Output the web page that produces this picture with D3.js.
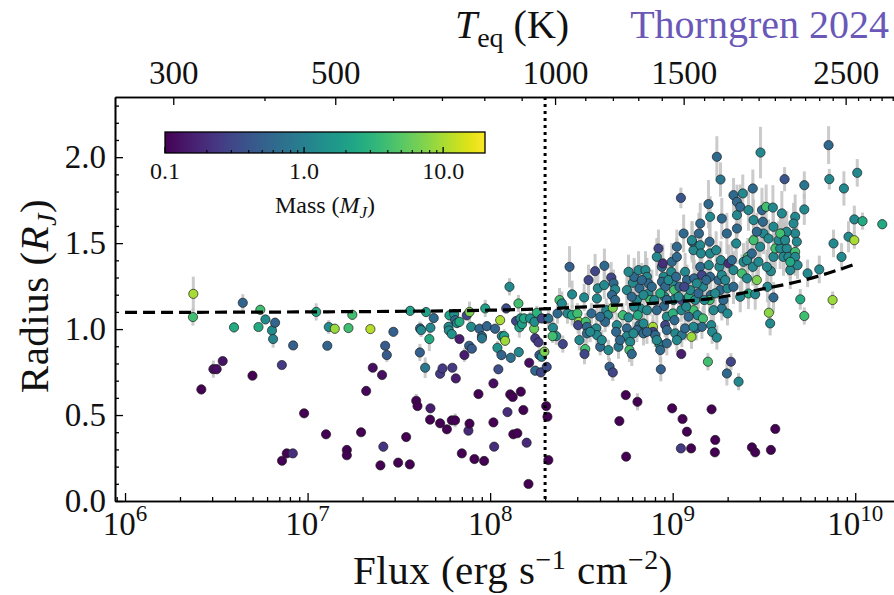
<!DOCTYPE html>
<html>
<head>
<meta charset="utf-8">
<script src="https://cdn.jsdelivr.net/npm/d3@7"></script>
<style>
  body { margin: 0; background: #fff; }
  svg text { font-family: "Liberation Serif", "DejaVu Serif", serif; fill: #111; }
</style>
</head>
<body>
<div id="chart"></div>
<script>
// --- data (log10 flux, radius in R_J, mass in M_J, radius error) ---
const logFlux = [
  6.374, 6.372, 6.418, 6.484, 6.502, 6.535, 6.597, 6.645, 6.698, 6.731,
  6.741, 6.769, 6.805, 6.822, 6.811, 6.859, 6.86, 6.886, 6.919, 6.921,
  6.981, 7.047, 7.101, 7.108, 7.116, 7.149, 7.215, 7.215, 7.224, 7.245,
  7.293, 7.321, 7.344, 7.357, 7.399, 7.408, 7.415, 7.425, 7.434, 7.47,
  7.496, 7.54, 7.562, 7.56, 7.595, 7.602, 7.616, 7.622, 7.615, 7.644,
  7.649, 7.667, 7.673, 7.673, 7.671, 7.691, 7.726, 7.726, 7.739, 7.763,
  7.772, 7.774, 7.777, 7.79, 7.793, 7.79, 7.808, 7.803, 7.808, 7.818,
  7.832, 7.812, 7.832, 7.845, 7.859, 7.872, 7.881, 7.887, 7.887, 7.896,
  7.885, 7.9, 7.914, 7.936, 7.941, 7.955, 7.955, 7.967, 7.973, 7.982,
  8.018, 8.018, 8.022, 8.027, 8.04, 8.045, 8.055, 8.062, 8.064, 8.077,
  8.082, 8.088, 8.095, 8.106, 8.113, 8.11, 8.124, 8.127, 8.142, 8.149,
  8.155, 8.157, 8.16, 8.166, 8.168, 8.175, 8.182, 8.186, 8.2, 8.21,
  8.214, 8.219, 8.241, 8.243, 8.247, 8.247, 8.256, 8.265, 8.27, 8.278,
  8.283, 8.283, 8.297, 8.307, 8.314, 8.319, 8.31, 8.319, 8.344, 8.362,
  8.342, 8.398, 8.380, 8.393, 8.369, 8.435, 8.449, 8.424, 8.449, 8.478,
  8.486, 8.489, 8.482, 8.515, 8.524, 8.530, 8.530, 8.521, 8.517, 8.539,
  8.555, 8.575, 8.585, 8.590, 8.581, 8.585, 8.603, 8.626, 8.625, 8.636,
  8.645, 8.630, 8.648, 8.654, 8.672, 8.663, 8.676, 8.685, 8.667, 8.685,
  8.672, 8.694, 8.690, 8.703, 8.708, 8.743, 8.745, 8.727, 8.749, 8.758,
  8.749, 8.749, 8.767, 8.763, 8.776, 8.807, 8.782, 8.789, 8.813, 8.818,
  8.804, 8.822, 8.809, 8.818, 8.804, 8.840, 8.840, 8.851, 8.859, 8.867,
  8.867, 8.877, 8.859, 8.892, 8.892, 8.904, 8.928, 8.932, 8.935, 8.922,
  8.913, 8.941, 8.946, 8.950, 8.941, 8.959, 8.955, 8.953, 8.968, 8.959,
  8.968, 8.995, 8.992, 8.999, 9.008, 9.004, 9.001, 9.010, 9.014, 8.997,
  9.023, 9.037, 9.050, 9.047, 9.050, 9.047, 9.054, 9.045, 9.078, 9.101,
  9.068, 9.078, 9.089, 9.096, 9.114, 9.103, 9.129, 9.136, 9.123, 9.118,
  9.114, 9.107, 9.144, 9.151, 9.155, 9.151, 9.160, 9.166, 9.166, 9.160,
  9.196, 9.202, 9.205, 9.198, 9.205, 9.209, 9.202, 9.211, 9.216, 9.242,
  9.213, 9.233, 9.231, 9.193, 9.238, 9.251, 9.256, 9.264, 9.269, 9.269,
  9.260, 9.297, 9.300, 9.300, 9.297, 9.319, 9.306, 9.324, 9.333, 9.348,
  9.352, 9.361, 9.379, 9.388, 9.412, 9.407, 9.415, 9.439, 9.434, 9.452,
  9.443, 9.452, 9.470, 9.461, 9.494, 9.498, 9.489, 9.512, 9.519, 9.538,
  9.538, 9.552, 9.527, 9.534, 9.552, 9.562, 9.549, 9.562, 9.589, 9.598,
  9.598, 9.611, 9.625, 9.607, 9.634, 9.644, 9.671, 9.671, 9.671, 9.671,
  9.481, 9.242, 9.262, 9.045, 9.613, 9.854, 9.858, 9.721, 9.938, 10.011,
  9.439, 9.384, 9.333, 9.352, 9.721, 9.680, 9.684, 9.699, 9.721, 9.739,
  9.803, 9.876, 9.881, 9.925, 9.963, 9.995, 9.995, 10.040, 10.148,
  8.758, 8.776, 8.789, 8.831, 8.840, 8.886, 8.899, 8.913, 8.932, 8.968,
  8.977, 9.019, 9.032, 9.063, 9.074, 9.087, 9.132, 9.141, 9.173, 9.184,
  9.224, 9.233, 9.278, 9.288, 9.333, 9.370, 9.407, 9.434, 9.479, 9.516,
  9.580, 9.625, 9.644, 9.662, 8.548, 8.603, 8.612, 8.712, 8.785, 8.859,
  8.913, 8.968, 9.023, 9.068, 9.114, 9.151, 9.205, 9.269, 9.352, 9.370,
  9.415, 9.443, 9.461, 9.552, 9.589, 9.616, 9.525, 9.060, 9.105, 9.023
];

const radius = [
  1.205, 1.07, 0.649, 0.767, 0.767, 0.814, 1.01, 1.153, 0.729, 1.012,
  1.112, 1.056, 0.992, 1.037, 0.942, 0.791, 0.234, 0.277, 0.277, 0.905,
  0.51, 1.10, 0.388, 0.903, 1.012, 1.002, 0.297, 0.266, 1.006, 1.083,
  0.40, 0.64, 1.0, 0.775, 0.207, 0.733, 0.316, 0.903, 0.849, 0.984,
  0.223, 0.372, 1.106, 0.213, 0.583, 0.552, 1.004, 0.994, 0.864, 0.775,
  1.099, 0.942, 1.008, 0.539, 0.473, 1.064, 0.452, 0.74, 0.771, 0.417,
  1.013, 0.992, 1.08, 0.971, 0.775, 0.469, 0.469, 1.087, 1.052, 1.035,
  1.042, 0.713, 0.942, 0.277, 0.849, 1.08, 0.409, 0.45, 1.10, 1.013,
  0.903, 0.886, 0.244, 0.622, 1.002, 0.959, 0.946, 0.233, 1.12, 1.017,
  0.684, 0.457, 0.316, 1.002, 0.891, 0.766, 1.052, 0.849, 0.959, 0.959,
  0.932, 1.12, 0.517, 1.246, 0.833, 0.62, 0.605, 0.388, 1.047, 0.394,
  1.149, 0.866, 1.01, 1.062, 0.636, 1.029, 0.529, 1.062, 0.339, 0.099,
  0.804, 1.062, 1.002, 1.042, 0.946, 0.758, 1.095, 0.923, 0.849, 0.748,
  1.062, 0.839, 0.868, 0.552, 0.49, 0.238, 0.78, 1.062, 1.008, 0.959,
  0.959, 0.913, 1.169, 1.149, 1.091, 1.362, 1.202, 1.091, 1.081, 1.091,
  1.042, 0.936, 1.023, 1.184, 1.042, 1.013, 0.975, 0.884, 0.855, 1.285,
  1.091, 1.337, 1.178, 1.237, 1.004, 0.965, 0.897, 1.368, 1.256, 1.11,
  1.081, 1.042, 0.878, 0.781, 0.748, 1.30, 1.266, 1.231, 1.198, 1.169,
  1.124, 1.023, 0.984, 0.897, 0.465, 0.616, 0.258, 1.081, 1.227, 1.068,
  1.004, 0.959, 0.926, 0.878, 0.855, 0.577, 1.269, 1.304, 1.343, 1.237,
  1.169, 1.12, 1.081, 1.023, 0.994, 0.975, 1.033, 1.343, 1.304, 1.266,
  1.207, 1.169, 1.11, 1.013, 0.984, 0.965, 0.913, 0.878, 0.766, 1.469,
  1.42, 1.362, 1.382, 1.304, 1.275, 1.246, 1.188, 1.134, 1.072, 1.023,
  0.994, 1.391, 1.333, 1.275, 1.227, 1.169, 1.091, 1.052, 0.975, 0.539,
  1.42, 1.246, 1.169, 1.11, 0.965, 0.855, 0.477, 0.306, 0.403, 0.306,
  1.333, 1.285, 1.188, 1.227, 1.11, 0.955, 1.004, 1.081, 1.169, 1.295,
  1.459, 1.508, 1.556, 1.488, 1.44, 1.362, 1.314, 1.246, 1.062, 1.013,
  1.727, 1.508, 1.44, 1.372, 1.304, 1.198, 1.169, 1.023, 0.984, 0.951,
  0.533, 0.355, 0.283, 0.81, 1.459, 1.285, 1.362, 1.401, 1.314, 1.12,
  1.227, 1.556, 1.237, 1.091, 0.742, 0.81, 1.382, 1.401, 1.343, 1.498,
  1.585, 0.694, 1.324, 1.391, 1.42, 1.295, 1.207, 1.362, 0.312, 0.283,
  1.517, 1.203, 1.391, 1.285, 1.624, 1.556, 1.692, 1.711, 1.246, 0.297,
  1.337, 1.184, 1.095, 1.033, 1.42, 0.419, 1.707, 1.469, 1.469, 1.673,
  1.556, 1.537, 1.469, 1.42, 1.42, 1.343, 1.653, 1.556, 1.449, 1.42,
  2.027, 2.002, 1.87, 1.763, 1.872, 2.07, 1.872, 1.837, 1.818, 1.909,
  1.818, 1.789, 1.779, 1.74, 1.696, 1.508, 1.372, 1.173, 1.076, 1.324,
  1.347, 1.169, 1.498, 1.42, 1.537, 1.517, 1.638, 1.628, 1.61,
  1.333, 1.188, 1.13, 1.285, 1.198, 1.246, 1.169, 1.11, 1.208, 1.169,
  1.285, 1.304, 1.188, 1.246, 1.13, 1.072, 1.266, 1.208, 1.169, 1.285,
  1.11, 1.208, 1.169, 1.285, 1.246, 1.188, 1.401, 1.44, 1.479, 1.362,
  1.517, 1.566, 1.391, 1.614, 0.984, 1.072, 0.936, 0.936, 0.975, 0.984,
  0.936, 0.917, 0.936, 1.004, 1.013, 1.614, 1.653, 1.643, 1.663, 1.711,
  1.692, 1.634, 1.566, 1.595, 1.556, 1.517, 1.527, 1.556, 1.517, 1.479
];

const mass = [
  10, 4, 0.1, 0.12, 0.12, 0.13, 2.5, 0.55, 0.1, 2.5,
  4, 1.3, 1.3, 0.55, 1.1, 0.25, 0.1, 0.1, 0.2, 0.5,
  0.1, 2.5, 0.1, 0.55, 1.3, 9, 0.1, 0.1, 4, 4,
  0.1, 0.11, 11, 0.12, 0.1, 0.12, 0.22, 0.45, 0.45, 0.5,
  0.1, 0.1, 2, 0.1, 0.1, 0.1, 0.6, 1.2, 0.5, 0.8,
  2, 2.5, 1.2, 0.15, 0.1, 0.6, 0.1, 0.25, 0.25, 0.1,
  1.2, 1.3, 2, 1.5, 0.25, 0.1, 0.1, 1.5, 0.6, 1.2,
  2.5, 0.15, 0.15, 0.1, 0.15, 0.3, 0.18, 0.1, 7, 1.3,
  0.5, 0.45, 0.1, 0.1, 0.55, 0.6, 0.8, 0.1, 2, 0.55,
  0.12, 0.1, 0.2, 0.55, 1.5, 0.35, 10, 0.55, 1.2, 2,
  9, 0.35, 0.2, 1.2, 0.7, 0.1, 0.1, 0.1, 0.3, 0.1,
  4, 1.2, 2, 1.3, 0.1, 2, 0.1, 2.5, 0.18, 0.1,
  0.12, 1.5, 6, 1.3, 0.25, 0.6, 3, 0.25, 0.5, 0.3,
  0.3, 1.2, 7, 0.1, 0.1, 0.1, 0.35, 0.7, 1.2, 1.3,
  4, 0.3, 4, 1.2, 0.6, 0.5, 1.2, 1.2, 2.5, 4,
  8, 1.2, 0.3, 1.2, 4, 0.6, 0.6, 4, 0.3, 0.3,
  0.6, 0.3, 1.2, 1.2, 1.2, 1.2, 0.6, 0.6, 1.2, 1.2,
  1.2, 0.6, 1.2, 0.5, 0.3, 0.3, 0.6, 1.2, 0.6, 0.6,
  7, 1.2, 0.6, 0.8, 0.1, 0.1, 0.1, 4, 1.2, 1.2,
  0.6, 1.2, 1.2, 4, 0.6, 0.1, 1.2, 0.6, 1.2, 0.6,
  1.2, 1.2, 2.5, 0.6, 0.6, 0.6, 1.2, 1.2, 1.2, 0.6,
  1.2, 4, 1.2, 10, 0.3, 0.6, 1.2, 0.6, 0.5, 0.3,
  1.2, 0.6, 0.2, 1.2, 0.6, 0.6, 1.2, 0.6, 1.2, 0.3,
  0.6, 0.6, 1.2, 1.2, 4, 1.2, 3, 0.6, 1.2, 0.1,
  0.6, 0.6, 0.3, 1.2, 0.8, 0.15, 0.1, 0.25, 0.1, 0.1,
  1.2, 0.6, 2.5, 1.2, 4, 9, 0.6, 1.2, 1.2, 0.6,
  1.2, 0.6, 0.6, 1.2, 1.2, 0.6, 0.3, 1.2, 4, 0.6,
  0.6, 0.6, 1.2, 1.2, 0.6, 0.6, 4, 1.2, 1.2, 1.2,
  0.1, 0.1, 0.1, 4, 1.2, 0.6, 1.2, 1.2, 1.2, 0.8,
  0.6, 0.6, 1.2, 1.2, 0.6, 0.3, 0.2, 0.6, 1.2, 1.2,
  0.6, 1.2, 4, 1.2, 4, 1.2, 2.5, 1.2, 0.1, 0.1,
  4, 1.2, 1.2, 7, 0.6, 1.2, 0.6, 4, 1.2, 0.1,
  1.2, 0.6, 8, 1.2, 1.2, 0.1, 1.2, 4, 1.2, 1.2,
  1.2, 1.2, 1.2, 1.2, 1.2, 1.2, 1.2, 1.2, 4, 1.2,
  1.2, 0.6, 0.8, 0.4, 0.4, 0.6, 1.2, 0.8, 1.2, 1.2,
  0.6, 1.2, 0.6, 0.6, 1.2, 1.2, 1.2, 2.5, 4, 1.2,
  1.2, 9, 1.2, 1.2, 1.2, 10, 1.2, 2.5, 2.5,
  1.2, 0.6, 1.2, 0.6, 1.2, 0.6, 1.2, 0.6, 2.5, 0.6,
  1.2, 0.6, 1.2, 0.3, 1.2, 0.6, 1.2, 0.6, 1.2, 0.6,
  1.2, 1.2, 0.6, 1.2, 0.6, 1.2, 1.2, 0.6, 1.2, 1.2,
  1.2, 1.2, 2.5, 1.2, 1.2, 0.6, 1.2, 0.6, 1.2, 0.6,
  1.2, 0.6, 1.2, 0.6, 1.2, 0.6, 1.2, 0.6, 1.2, 0.6,
  1.2, 1.2, 0.6, 1.2, 4, 1.2, 1.2, 0.6, 1.2, 0.6
];

const radErr = [
  0.10, 0.05, 0.03, 0.05, 0.03, 0.02, 0.03, 0.05, 0.02, 0.02,
  0.03, 0.02, 0.04, 0.03, 0.05, 0.02, 0.02, 0.02, 0.02, 0.02,
  0.02, 0.05, 0.02, 0.02, 0.04, 0.03, 0.02, 0.02, 0.02, 0.03,
  0.02, 0.03, 0.02, 0.02, 0.02, 0.03, 0.03, 0.02, 0.04, 0.02,
  0.02, 0.02, 0.03, 0.02, 0.04, 0.02, 0.04, 0.04, 0.05, 0.06,
  0.03, 0.07, 0.03, 0.02, 0.02, 0.03, 0.02, 0.02, 0.02, 0.02,
  0.03, 0.03, 0.03, 0.03, 0.02, 0.02, 0.04, 0.03, 0.03, 0.03,
  0.03, 0.02, 0.02, 0.02, 0.04, 0.03, 0.02, 0.02, 0.06, 0.03,
  0.02, 0.02, 0.02, 0.02, 0.03, 0.03, 0.03, 0.02, 0.05, 0.03,
  0.02, 0.02, 0.02, 0.03, 0.04, 0.02, 0.03, 0.03, 0.03, 0.04,
  0.03, 0.03, 0.02, 0.05, 0.03, 0.02, 0.02, 0.02, 0.03, 0.02,
  0.05, 0.03, 0.06, 0.04, 0.02, 0.04, 0.02, 0.03, 0.02, 0.02,
  0.02, 0.04, 0.03, 0.03, 0.04, 0.03, 0.04, 0.03, 0.04, 0.03,
  0.03, 0.03, 0.04, 0.02, 0.02, 0.02, 0.03, 0.06, 0.05, 0.05,
  0.04, 0.05, 0.07, 0.07, 0.06, 0.12, 0.08, 0.06, 0.06, 0.06,
  0.05, 0.06, 0.05, 0.08, 0.05, 0.05, 0.06, 0.06, 0.06, 0.09,
  0.06, 0.10, 0.08, 0.08, 0.06, 0.06, 0.05, 0.10, 0.08, 0.07,
  0.07, 0.06, 0.06, 0.05, 0.05, 0.09, 0.08, 0.08, 0.08, 0.08,
  0.07, 0.07, 0.07, 0.07, 0.02, 0.02, 0.02, 0.07, 0.09, 0.07,
  0.07, 0.07, 0.07, 0.07, 0.07, 0.05, 0.09, 0.11, 0.11, 0.09,
  0.09, 0.09, 0.07, 0.07, 0.07, 0.07, 0.07, 0.11, 0.11, 0.09,
  0.09, 0.09, 0.07, 0.07, 0.07, 0.07, 0.07, 0.07, 0.07, 0.11,
  0.11, 0.11, 0.11, 0.11, 0.09, 0.09, 0.09, 0.09, 0.07, 0.07,
  0.07, 0.11, 0.11, 0.09, 0.09, 0.09, 0.07, 0.07, 0.07, 0.02,
  0.11, 0.09, 0.09, 0.07, 0.07, 0.03, 0.02, 0.02, 0.02, 0.02,
  0.11, 0.09, 0.09, 0.09, 0.07, 0.07, 0.07, 0.07, 0.09, 0.11,
  0.11, 0.12, 0.12, 0.11, 0.11, 0.11, 0.11, 0.09, 0.07, 0.07,
  0.14, 0.12, 0.11, 0.11, 0.11, 0.09, 0.09, 0.07, 0.07, 0.07,
  0.02, 0.02, 0.02, 0.05, 0.11, 0.11, 0.11, 0.11, 0.11, 0.07,
  0.09, 0.12, 0.09, 0.07, 0.07, 0.05, 0.11, 0.11, 0.11, 0.12,
  0.12, 0.05, 0.11, 0.11, 0.11, 0.11, 0.09, 0.11, 0.02, 0.02,
  0.12, 0.09, 0.11, 0.11, 0.12, 0.12, 0.13, 0.13, 0.09, 0.02,
  0.11, 0.09, 0.07, 0.07, 0.11, 0.02, 0.13, 0.12, 0.12, 0.13,
  0.12, 0.12, 0.12, 0.11, 0.11, 0.11, 0.13, 0.12, 0.12, 0.11,
  0.15, 0.12, 0.10, 0.06, 0.07, 0.11, 0.06, 0.08, 0.10, 0.08,
  0.11, 0.11, 0.10, 0.10, 0.09, 0.09, 0.08, 0.06, 0.05, 0.08,
  0.08, 0.05, 0.08, 0.08, 0.09, 0.05, 0.08, 0.05, 0.03,
  0.10, 0.09, 0.08, 0.10, 0.09, 0.10, 0.09, 0.08, 0.09, 0.09,
  0.10, 0.10, 0.09, 0.10, 0.08, 0.08, 0.10, 0.09, 0.09, 0.10,
  0.08, 0.09, 0.09, 0.10, 0.10, 0.09, 0.11, 0.11, 0.11, 0.10,
  0.11, 0.12, 0.10, 0.12, 0.06, 0.07, 0.06, 0.06, 0.07, 0.07,
  0.07, 0.07, 0.07, 0.07, 0.07, 0.12, 0.12, 0.12, 0.12, 0.13,
  0.12, 0.12, 0.11, 0.12, 0.11, 0.11, 0.11, 0.11, 0.11, 0.10
];

// dashed reference curve
const curveLogFlux = [6.0, 7.0, 8.0, 8.3, 8.6, 9.0, 9.2, 9.5, 9.7, 9.85, 10.01];
const curveRadius = [1.097, 1.10, 1.11, 1.118, 1.134, 1.158, 1.176, 1.235, 1.28, 1.325, 1.382];

// ticks
const fluxTicks = [1e6, 1e7, 1e8, 1e9, 1e10];
const radiusTicks = [0, 0.5, 1.0, 1.5, 2.0];
const teqTicks = [300, 500, 1000, 1500, 2500];
const massTicks = [0.1, 1, 10];
const massTickLabels = ["0.1", "1.0", "10.0"];
const cutFlux = 2e8;

const W = 894, H = 595;
const plot = { left: 115, right: 910, top: 97, bottom: 501 };
const SIGMA = 5.670374e-5;
const teqToFlux = t => 4 * SIGMA * Math.pow(t, 4);

const svg = d3.select("#chart").append("svg")
  .attr("width", W).attr("height", H)
  .style("display", "block");

// --- Scales ---
const x = d3.scaleLog().domain([Math.pow(10, 5.945), Math.pow(10, 10.30)]).range([plot.left, plot.right]);
const y = d3.scaleLinear().domain([0, 2.35]).range([plot.bottom, plot.top]);
const color = d3.scaleSequentialLog(d3.interpolateViridis).domain([0.1, 20]).clamp(true);

svg.append("defs").append("clipPath").attr("id", "clip")
  .append("rect")
  .attr("x", plot.left).attr("y", plot.top)
  .attr("width", plot.right - plot.left).attr("height", plot.bottom - plot.top);

const points = logFlux.map((lf, i) => ({
  f: Math.pow(10, lf), r: radius[i], m: mass[i], e: radErr[i]
}));

const marks = svg.append("g").attr("clip-path", "url(#clip)");

// --- Error bars ---
marks.selectAll(".err")
  .data(points)
  .enter().append("line")
  .attr("class", "err")
  .attr("x1", d => x(d.f)).attr("x2", d => x(d.f))
  .attr("y1", d => y(d.r - d.e)).attr("y2", d => y(d.r + d.e))
  .attr("stroke", "#c2c2c2")
  .attr("stroke-width", 3)
  .attr("opacity", 0.85);

// --- Points ---
marks.selectAll(".pt")
  .data(points)
  .enter().append("circle")
  .attr("class", "pt")
  .attr("cx", d => x(d.f))
  .attr("cy", d => y(d.r))
  .attr("r", 4.6)
  .attr("fill", d => color(d.m))
  .attr("stroke", "#1c1c1c")
  .attr("stroke-width", 0.7);

// --- Dashed curve ---
const curve = curveLogFlux.map((lf, i) => [Math.pow(10, lf), curveRadius[i]]);
marks.append("path")
  .datum(curve)
  .attr("fill", "none")
  .attr("stroke", "#000")
  .attr("stroke-width", 3.2)
  .attr("stroke-dasharray", "12,6")
  .attr("d", d3.line().x(d => x(d[0])).y(d => y(d[1])).curve(d3.curveMonotoneX));

// --- Dotted vertical line ---
marks.append("line")
  .attr("x1", x(cutFlux)).attr("x2", x(cutFlux))
  .attr("y1", plot.top).attr("y2", plot.bottom)
  .attr("stroke", "#000")
  .attr("stroke-width", 3)
  .attr("stroke-dasharray", "3,4");

// --- Axes ---
const fontTick = "33px";
const minorFlux = [];
for (let p = 5; p <= 10; p++) for (let k = 2; k <= 9; k++) {
  const v = k * Math.pow(10, p);
  if (v > x.domain()[0] && v < x.domain()[1]) minorFlux.push(v);
}
const minorRadius = d3.range(0, 2.35, 0.1).filter(v => Math.abs(v * 2 - Math.round(v * 2)) > 1e-6);
const minorTeq = d3.range(200, 3100, 100).filter(t => !teqTicks.includes(t))
  .map(teqToFlux).filter(v => v > x.domain()[0] && v < x.domain()[1]);

function styleAxis(g) {
  g.select(".domain").attr("stroke", "#000").attr("stroke-width", 1.6);
  g.selectAll(".tick line").attr("stroke", "#000").attr("stroke-width", 1.3);
}

// bottom
svg.append("g").attr("transform", `translate(0,${plot.bottom})`)
  .call(d3.axisBottom(x).tickValues(minorFlux).tickSize(-4).tickSizeOuter(0).tickFormat(""))
  .call(styleAxis);
svg.append("g").attr("transform", `translate(0,${plot.bottom})`)
  .call(d3.axisBottom(x).tickValues(fluxTicks).tickSize(-8).tickSizeOuter(0).tickFormat(""))
  .call(styleAxis);

fluxTicks.forEach(t => {
  const tx = svg.append("text")
    .attr("x", x(t)).attr("y", 535)
    .attr("text-anchor", "middle")
    .style("font-size", fontTick);
  tx.append("tspan").text("10");
  tx.append("tspan").attr("dy", -14).style("font-size", "23px").text(Math.round(Math.log10(t)));
});

// left
svg.append("g").attr("transform", `translate(${plot.left},0)`)
  .call(d3.axisLeft(y).tickValues(minorRadius).tickSize(-4).tickSizeOuter(0).tickFormat(""))
  .call(styleAxis);
const yAxis = svg.append("g").attr("transform", `translate(${plot.left},0)`)
  .call(d3.axisLeft(y).tickValues(radiusTicks).tickSize(-8).tickSizeOuter(0)
    .tickPadding(9).tickFormat(d3.format(".1f")))
  .call(styleAxis);
yAxis.selectAll("text")
  .style("font-family", "'Liberation Serif', serif")
  .style("font-size", fontTick)
  .attr("fill", "#111");

// top (T_eq)
svg.append("g").attr("transform", `translate(0,${plot.top})`)
  .call(d3.axisTop(x).tickValues(minorTeq).tickSize(-4).tickSizeOuter(0).tickFormat(""))
  .call(styleAxis);
const teqLabel = new Map(teqTicks.map(t => [teqToFlux(t), String(t)]));
const topAxis = svg.append("g").attr("transform", `translate(0,${plot.top})`)
  .call(d3.axisTop(x).tickValues(teqTicks.map(teqToFlux)).tickSize(-8).tickSizeOuter(0)
    .tickPadding(13).tickFormat(v => teqLabel.get(v)))
  .call(styleAxis);
topAxis.selectAll("text")
  .style("font-family", "'Liberation Serif', serif")
  .style("font-size", fontTick)
  .attr("fill", "#111");

// --- Axis labels ---
const xl = svg.append("text")
  .attr("x", 513).attr("y", 584)
  .attr("text-anchor", "middle")
  .style("font-size", "41px")
  .style("letter-spacing", "0.5px");
xl.append("tspan").text("Flux (erg s");
xl.append("tspan").attr("dy", -15).style("font-size", "28px").text("\u22121");
xl.append("tspan").attr("dy", 15).text(" cm");
xl.append("tspan").attr("dy", -15).style("font-size", "28px").text("\u22122");
xl.append("tspan").attr("dy", 15).text(")");

const yl = svg.append("text")
  .attr("transform", `translate(48,${296}) rotate(-90)`)
  .attr("text-anchor", "middle")
  .style("font-size", "41px")
  .style("letter-spacing", "0.5px");
yl.append("tspan").text("Radius (");
yl.append("tspan").style("font-style", "italic").text("R");
yl.append("tspan").attr("dy", 8).style("font-size", "28px").style("font-style", "italic").text("J");
yl.append("tspan").attr("dy", -8).text(")");

const tl = svg.append("text")
  .attr("x", 512).attr("y", 38)
  .attr("text-anchor", "middle")
  .style("font-size", "40px");
tl.append("tspan").style("font-style", "italic").text("T");
tl.append("tspan").attr("dy", 9).style("font-size", "28px").text("eq");
tl.append("tspan").attr("dy", -9).text(" (K)");

svg.append("text")
  .attr("x", 889).attr("y", 38)
  .attr("text-anchor", "end")
  .style("font-size", "40px")
  .style("fill", "#6a58b8")
  .text("Thorngren 2024");

// --- Colorbar ---
const cb = { x0: 165, x1: 485, y0: 132, h: 21 };
const cx = d3.scaleLog().domain([0.1, 20]).range([cb.x0, cb.x1]);
const grad = svg.select("defs").append("linearGradient").attr("id", "viridis");
d3.range(0, 1.0001, 0.05).forEach(t => {
  grad.append("stop").attr("offset", t).attr("stop-color", d3.interpolateViridis(t));
});
svg.append("rect")
  .attr("x", cb.x0).attr("y", cb.y0)
  .attr("width", cb.x1 - cb.x0).attr("height", cb.h)
  .attr("fill", "url(#viridis)")
  .attr("stroke", "#000").attr("stroke-width", 1.3);

const cbMinor = [];
[0.1, 1, 10].forEach(p => { for (let k = 2; k <= 9; k++) if (k * p < 20) cbMinor.push(k * p); });
svg.selectAll(".cbminor").data(cbMinor).enter().append("line")
  .attr("x1", d => cx(d)).attr("x2", d => cx(d))
  .attr("y1", cb.y0 + cb.h).attr("y2", cb.y0 + cb.h - 3)
  .attr("stroke", "#000").attr("stroke-width", 1.1);
svg.selectAll(".cbmajor").data(massTicks).enter().append("line")
  .attr("x1", d => cx(d)).attr("x2", d => cx(d))
  .attr("y1", cb.y0 + cb.h).attr("y2", cb.y0 + cb.h - 6)
  .attr("stroke", "#000").attr("stroke-width", 1.3);
svg.selectAll(".cblab").data(massTicks).enter().append("text")
  .attr("x", d => cx(d)).attr("y", 179)
  .attr("text-anchor", "middle")
  .style("font-size", "24px")
  .text((d, i) => massTickLabels[i]);

const ml = svg.append("text")
  .attr("x", 325).attr("y", 213)
  .attr("text-anchor", "middle")
  .style("font-size", "24px");
ml.append("tspan").text("Mass (");
ml.append("tspan").style("font-style", "italic").text("M");
ml.append("tspan").attr("dy", 5).style("font-size", "17px").style("font-style", "italic").text("J");
ml.append("tspan").attr("dy", -5).text(")");
</script>
</body>
</html>
